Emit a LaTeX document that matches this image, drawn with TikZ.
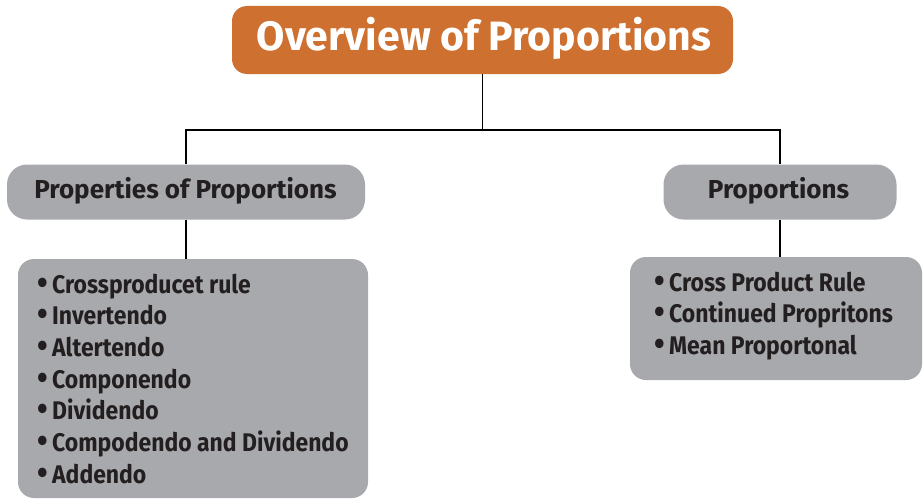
\documentclass[tikz,border=0pt]{standalone}
\usepackage{fontspec}
\setmainfont{Fira Sans}
\newfontfamily\condf[FakeStretch=0.9]{Fira Sans}
\definecolor{orng}{HTML}{CD7030}
\definecolor{gbox}{HTML}{A7A9AC}
\definecolor{ink}{HTML}{231F20}
\tikzset{
  titlebox/.style={fill=orng, rounded corners=15pt, minimum width=501pt, minimum height=68pt, inner sep=0pt},
  catbox/.style={fill=gbox, rounded corners=20pt, minimum height=55pt, inner sep=0pt},
  listbox/.style={fill=gbox, rounded corners=16pt, inner sep=0pt},
  cattxt/.style={anchor=base, inner sep=0pt, text=ink, font=\bfseries\fontsize{26}{30}\selectfont},
  itemtxt/.style={anchor=base west, inner sep=0pt, text=ink, font=\condf\bfseries\fontsize{25.5}{30}\selectfont},
  conn/.style={line width=1.8pt, draw=black}
}
\newcommand{\blt}{\makebox[15pt][l]{\fontsize{34}{34}\selectfont\raisebox{-1pt}{•}}}
\begin{document}
\begin{tikzpicture}[x=1pt,y=-1pt]
\useasboundingbox (0,0) rectangle (923,503);
% boxes
\node[titlebox] (title) at (482.5,40) {};
\node[anchor=base, inner sep=0pt, text=white, font=\bfseries\fontsize{41}{45}\selectfont] (titletxt) at (484,51) {Overview of Proportions};
\node[catbox, minimum width=358pt] (left) at (186,192) {};
\node[cattxt] (lefttxt) at (185.5,198) {Properties of Proportions};
\node[catbox, minimum width=233pt] (right) at (780,192) {};
\node[cattxt] (righttxt) at (778.5,198) {Proportions};
\node[listbox, minimum width=350pt, minimum height=239pt] (llist) at (193,378.5) {};
\node[listbox, minimum width=292pt, minimum height=123pt] (rlist) at (776,318.5) {};
% connectors
\coordinate (hub) at (title.south |- 0,130);
\draw[conn] (title.south) -- (hub);
\draw[conn] (left.north) |- (hub) -| (right.north);
\draw[conn] (left.south) -- (left.south |- llist.north);
\draw[conn] (right.south) -- (right.south |- rlist.north);
% list items
\foreach \t [count=\i] in {Crossproducet rule, Invertendo, Altertendo, Componendo, Dividendo, Compodendo and Dividendo, Addendo}
  \node[itemtxt] (l\i) at (37,{293+31.7*(\i-1)}) {\blt\t};
\foreach \t [count=\i] in {Cross Product Rule, Continued Propritons, Mean Proportonal}
  \node[itemtxt] (r\i) at (654,{291+31.7*(\i-1)}) {\blt\t};
\end{tikzpicture}
\end{document}
